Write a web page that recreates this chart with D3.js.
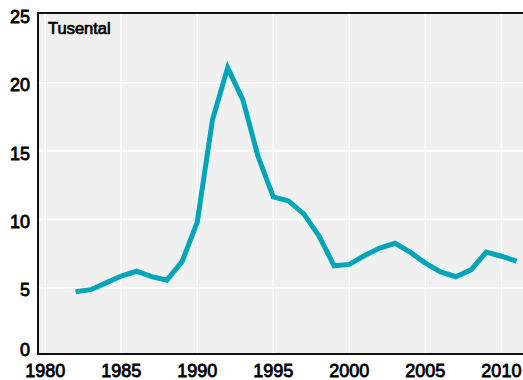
<!DOCTYPE html>
<html><head><meta charset="utf-8">
<script src="https://cdn.jsdelivr.net/npm/d3@7"></script>
<style>body{margin:0;background:#fff;} svg{display:block;} text{font-family:"Liberation Sans",Arial,sans-serif;}</style>
</head><body><div id="chart"></div>
<script>
const years = [1982,1983,1984,1985,1986,1987,1988,1989,1990,1991,1992,1993,1994,1995,1996,1997,1998,1999,2000,2001,2002,2003,2004,2005,2006,2007,2008,2009,2010,2011];
const values = [4.7,4.85,5.35,5.85,6.2,5.8,5.55,6.9,9.8,17.3,21.1,18.75,14.6,11.65,11.35,10.4,8.8,6.6,6.7,7.35,7.9,8.25,7.6,6.8,6.15,5.8,6.3,7.6,7.3,6.95];
const xTicks = [1980,1985,1990,1995,2000,2005,2010];
const yTicks = [0,5,10,15,20,25];
const unitLabel = "Tusental";

const W = 523, H = 380;
const svg = d3.select("#chart").append("svg").attr("width", W).attr("height", H);
const plotL = 38, plotT = 13, plotR = 523, plotB = 354;
const x = d3.scaleLinear().domain([1980, 2011]).range([45.2, 516.6]);
const y = d3.scaleLinear().domain([0, 25]).range([355.9, 14.6]);

svg.append("rect").attr("x", plotL).attr("y", plotT).attr("width", plotR - plotL).attr("height", plotB - plotT).attr("fill", "#f0f0f0");

const g = svg.append("g");
g.selectAll("line.vg").data(xTicks).join("line").attr("class","vg")
  .attr("x1", d => x(d)).attr("x2", d => x(d)).attr("y1", plotT).attr("y2", plotB)
  .attr("stroke", "#fff").attr("stroke-width", 1.5);
g.selectAll("line.hg").data(yTicks.filter(d => d > 0 && d < 25)).join("line").attr("class","hg")
  .attr("x1", plotL).attr("x2", plotR).attr("y1", d => y(d)).attr("y2", d => y(d))
  .attr("stroke", "#fff").attr("stroke-width", 1.5);

const line = d3.line().x((d, i) => x(years[i])).y(d => y(d));
svg.append("path").datum(values).attr("d", line).attr("fill", "none")
  .attr("stroke", "#00a5b8").attr("stroke-width", 5).attr("stroke-linejoin", "miter");

// frame
svg.append("line").attr("x1", plotL).attr("x2", plotR).attr("y1", plotT).attr("y2", plotT).attr("stroke", "#111").attr("stroke-width", 2);
svg.append("line").attr("x1", plotL).attr("x2", plotR).attr("y1", plotB).attr("y2", plotB).attr("stroke", "#111").attr("stroke-width", 2);
svg.append("line").attr("x1", plotL).attr("x2", plotL).attr("y1", plotT - 1).attr("y2", plotB + 1).attr("stroke", "#111").attr("stroke-width", 2);

svg.selectAll("text.yl").data(yTicks).join("text").attr("class","yl")
  .attr("x", 30).attr("y", d => d === 0 ? y(d) - 6 : y(d) + 2).attr("dy", "0.36em").attr("text-anchor", "end")
  .attr("font-size", 18).attr("fill", "#000").attr("stroke", "#000").attr("stroke-width", 0.8).text(d => d);
svg.selectAll("text.xl").data(xTicks).join("text").attr("class","xl")
  .attr("x", d => x(d)).attr("y", 377).attr("text-anchor", "middle")
  .attr("font-size", 18).attr("fill", "#000").attr("stroke", "#000").attr("stroke-width", 0.8).text(d => d);

svg.append("text").attr("x", 48).attr("y", 34).attr("font-size", 16.5).attr("fill", "#000")
  .attr("stroke", "#000").attr("stroke-width", 0.7).text(unitLabel);
</script></body></html>
